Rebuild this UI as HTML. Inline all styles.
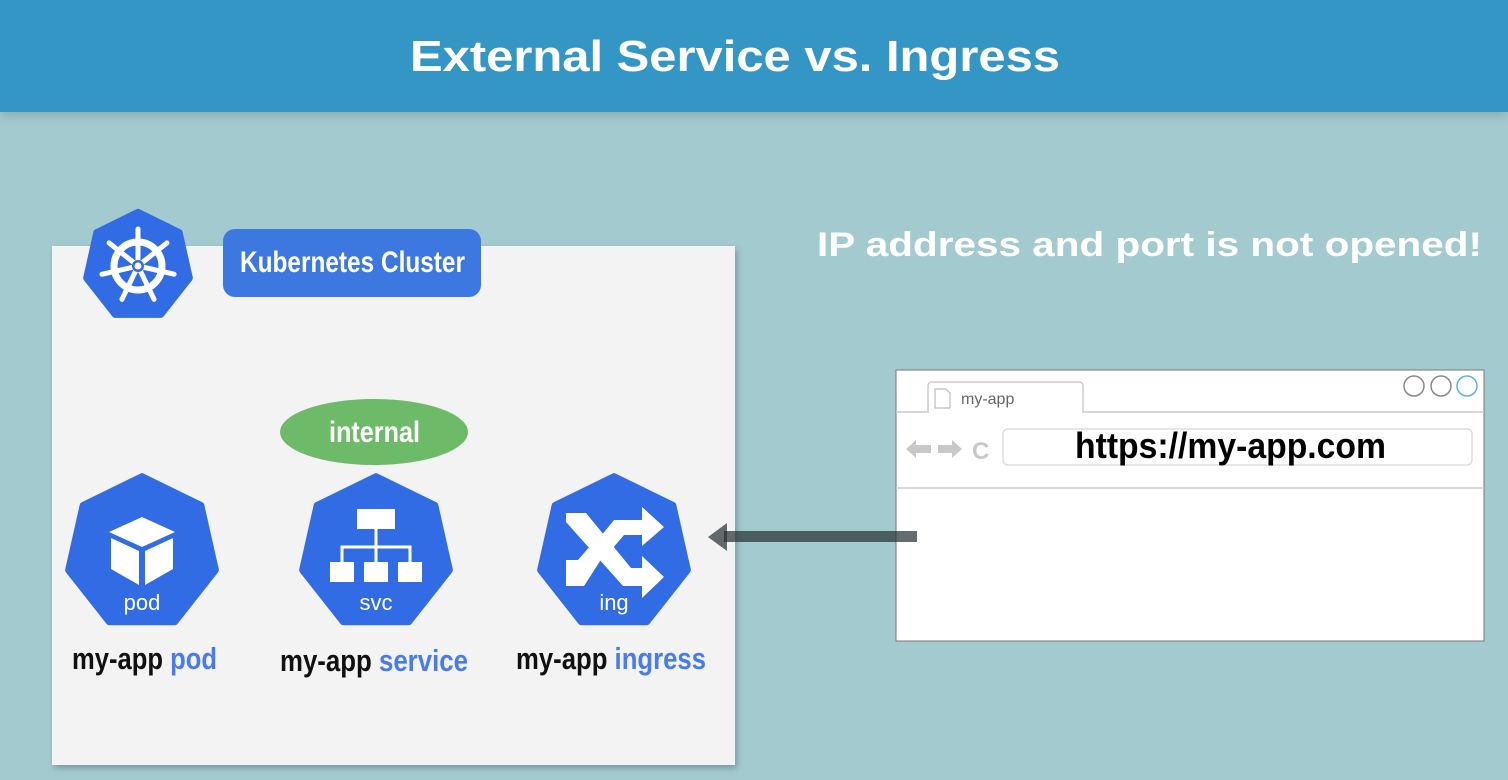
<!DOCTYPE html>
<html><head><meta charset="utf-8"><style>
html,body{margin:0;padding:0;}
body{width:1508px;height:780px;overflow:hidden;background:#a3cbcf;position:relative;font-family:"Liberation Sans",sans-serif;}
.hdr{position:absolute;left:0;top:0;width:1508px;height:112px;background:#3396c4;box-shadow:0 4px 10px rgba(0,0,0,0.15);}
.panel{position:absolute;left:52px;top:246px;width:683px;height:519px;background:#f3f3f4;box-shadow:2px 3px 6px rgba(0,0,0,0.25);}
</style></head><body>
<div class="hdr"></div>
<div class="panel"></div>
<svg width="1508" height="780" style="position:absolute;left:0;top:0" font-family="Liberation Sans, sans-serif">
<defs>
<polygon id="hep" points="0,-1 0.782,-0.623 0.975,0.223 0.434,0.901 -0.434,0.901 -0.975,0.223 -0.782,-0.623"/>
</defs>
<text x="410" y="71" fill="#fff" font-size="44" font-weight="bold" textLength="650" lengthAdjust="spacingAndGlyphs">External Service vs. Ingress</text>
<text x="817" y="256" fill="#fff" font-size="34" font-weight="bold" textLength="665" lengthAdjust="spacingAndGlyphs">IP address and port is not opened!</text>
<!-- k8s logo -->
<g transform="translate(138,266) scale(53,54)"><use href="#hep" fill="#326ce5" stroke="#326ce5" stroke-width="0.12" stroke-linejoin="round"/></g>
<g transform="translate(138,266)" stroke="#fff" fill="none" stroke-linecap="round">
<circle r="24" stroke-width="7"/>
<g stroke-width="5">
<line x1="0" y1="-37" x2="0" y2="0" transform="rotate(0)"/>
<line x1="0" y1="-37" x2="0" y2="0" transform="rotate(51.4)"/>
<line x1="0" y1="-37" x2="0" y2="0" transform="rotate(102.8)"/>
<line x1="0" y1="-37" x2="0" y2="0" transform="rotate(154.3)"/>
<line x1="0" y1="-37" x2="0" y2="0" transform="rotate(205.7)"/>
<line x1="0" y1="-37" x2="0" y2="0" transform="rotate(257.1)"/>
<line x1="0" y1="-37" x2="0" y2="0" transform="rotate(308.6)"/>
</g>
<circle r="6" fill="#326ce5" stroke="none"/><circle r="3.5" fill="#fff" stroke="none"/>
</g>
<rect x="223" y="229" width="258" height="68" rx="12" fill="#3c78e0"/>
<text x="240" y="272" fill="#fff" font-size="30" font-weight="bold" textLength="225" lengthAdjust="spacingAndGlyphs">Kubernetes Cluster</text>
<ellipse cx="374" cy="432" rx="94" ry="33" fill="#6dbb69"/>
<text x="329" y="442" fill="#fff" font-size="30" font-weight="bold" textLength="91" lengthAdjust="spacingAndGlyphs">internal</text>
<!-- pod -->
<g transform="translate(142,553) scale(75,76)"><use href="#hep" fill="#326ce5" stroke="#326ce5" stroke-width="0.1" stroke-linejoin="round"/></g>
<polygon points="142,517 175,532 142,547 109,532" fill="#fff"/>
<polygon points="111,538 139,551 139,585 111,569" fill="#fff"/>
<polygon points="173,538 145,551 145,585 173,569" fill="#fff"/>
<text x="142" y="610" text-anchor="middle" fill="#fff" font-size="22">pod</text>
<!-- svc -->
<g transform="translate(376,553) scale(75,76)"><use href="#hep" fill="#326ce5" stroke="#326ce5" stroke-width="0.1" stroke-linejoin="round"/></g>
<g fill="#fff"><rect x="357" y="509" width="38" height="20"/><rect x="330" y="562" width="24" height="20"/><rect x="364" y="562" width="24" height="20"/><rect x="398" y="562" width="24" height="20"/></g>
<g stroke="#fff" stroke-width="3" fill="none"><path d="M376,529 V562 M342,562 V547 H410 V562"/></g>
<text x="376" y="610" text-anchor="middle" fill="#fff" font-size="22">svc</text>
<!-- ing -->
<g transform="translate(614,553) scale(75,76)"><use href="#hep" fill="#326ce5" stroke="#326ce5" stroke-width="0.1" stroke-linejoin="round"/></g>
<g fill="#fff">
<polygon points="566,513 586,513 631,568 642,568 642,556 664,577 642,598 642,586 623,586 566,522"/>
<polygon points="566,560 578,560 591,545 602,558 584,586 566,586"/>
<polygon points="601,536 614,520 642,520 642,507 664,527 642,546 642,535 624,535 612,549"/>
</g>
<text x="614" y="610" text-anchor="middle" fill="#fff" font-size="22">ing</text>
<!-- labels -->
<text x="72" y="669" font-size="31" font-weight="bold" textLength="145" lengthAdjust="spacingAndGlyphs"><tspan fill="#111">my-app </tspan><tspan fill="#4a7bea">pod</tspan></text>
<text x="280" y="671" font-size="31" font-weight="bold" textLength="188" lengthAdjust="spacingAndGlyphs"><tspan fill="#111">my-app </tspan><tspan fill="#4a7bea">service</tspan></text>
<text x="516" y="669" font-size="31" font-weight="bold" textLength="190" lengthAdjust="spacingAndGlyphs"><tspan fill="#111">my-app </tspan><tspan fill="#4a7bea">ingress</tspan></text>
<!-- browser -->
<rect x="896" y="370" width="588" height="271" fill="#fff" stroke="#777" stroke-width="1"/>
<line x1="896" y1="412" x2="1484" y2="412" stroke="#ccc" stroke-width="1.5"/>
<path d="M928,412 V386 Q928,382 932,382 H1079 Q1083,382 1083,386 V412" fill="#fff" stroke="#ccc" stroke-width="1.5"/>
<line x1="929" y1="412" x2="1082" y2="412" stroke="#fff" stroke-width="2"/>
<path d="M935,389 H946 L950,393 V408 H935 Z" fill="none" stroke="#bbb" stroke-width="1.2"/>
<text x="961" y="404" font-size="16" fill="#666">my-app</text>
<circle cx="1414" cy="386" r="10" fill="none" stroke="#888" stroke-width="1.5"/>
<circle cx="1441" cy="386" r="10" fill="none" stroke="#888" stroke-width="1.5"/>
<circle cx="1467" cy="386" r="10" fill="none" stroke="#5ab0f0" stroke-width="1.5"/>
<line x1="896" y1="488" x2="1484" y2="488" stroke="#ccc" stroke-width="1.5"/>
<rect x="1003" y="429" width="469" height="36" rx="5" fill="none" stroke="#ddd" stroke-width="1.5"/>
<g fill="#c8c8c8"><polygon points="906,449 916,440 916,445 931,445 931,453 916,453 916,458"/><polygon points="962,449 952,440 952,445 938,445 938,453 952,453 952,458"/></g>
<text x="972" y="459" font-size="24" font-weight="bold" fill="#c8c8c8">C</text>
<text x="1075" y="458" font-size="36" font-weight="bold" fill="#000" textLength="311" lengthAdjust="spacingAndGlyphs">https://my-app.com</text>
<!-- arrow -->
<rect x="724" y="531" width="193" height="11" fill="rgba(35,45,48,0.7)"/>
<polygon points="708,537 727,523 727,551" fill="rgba(35,45,48,0.7)"/>
</svg>
</body></html>
